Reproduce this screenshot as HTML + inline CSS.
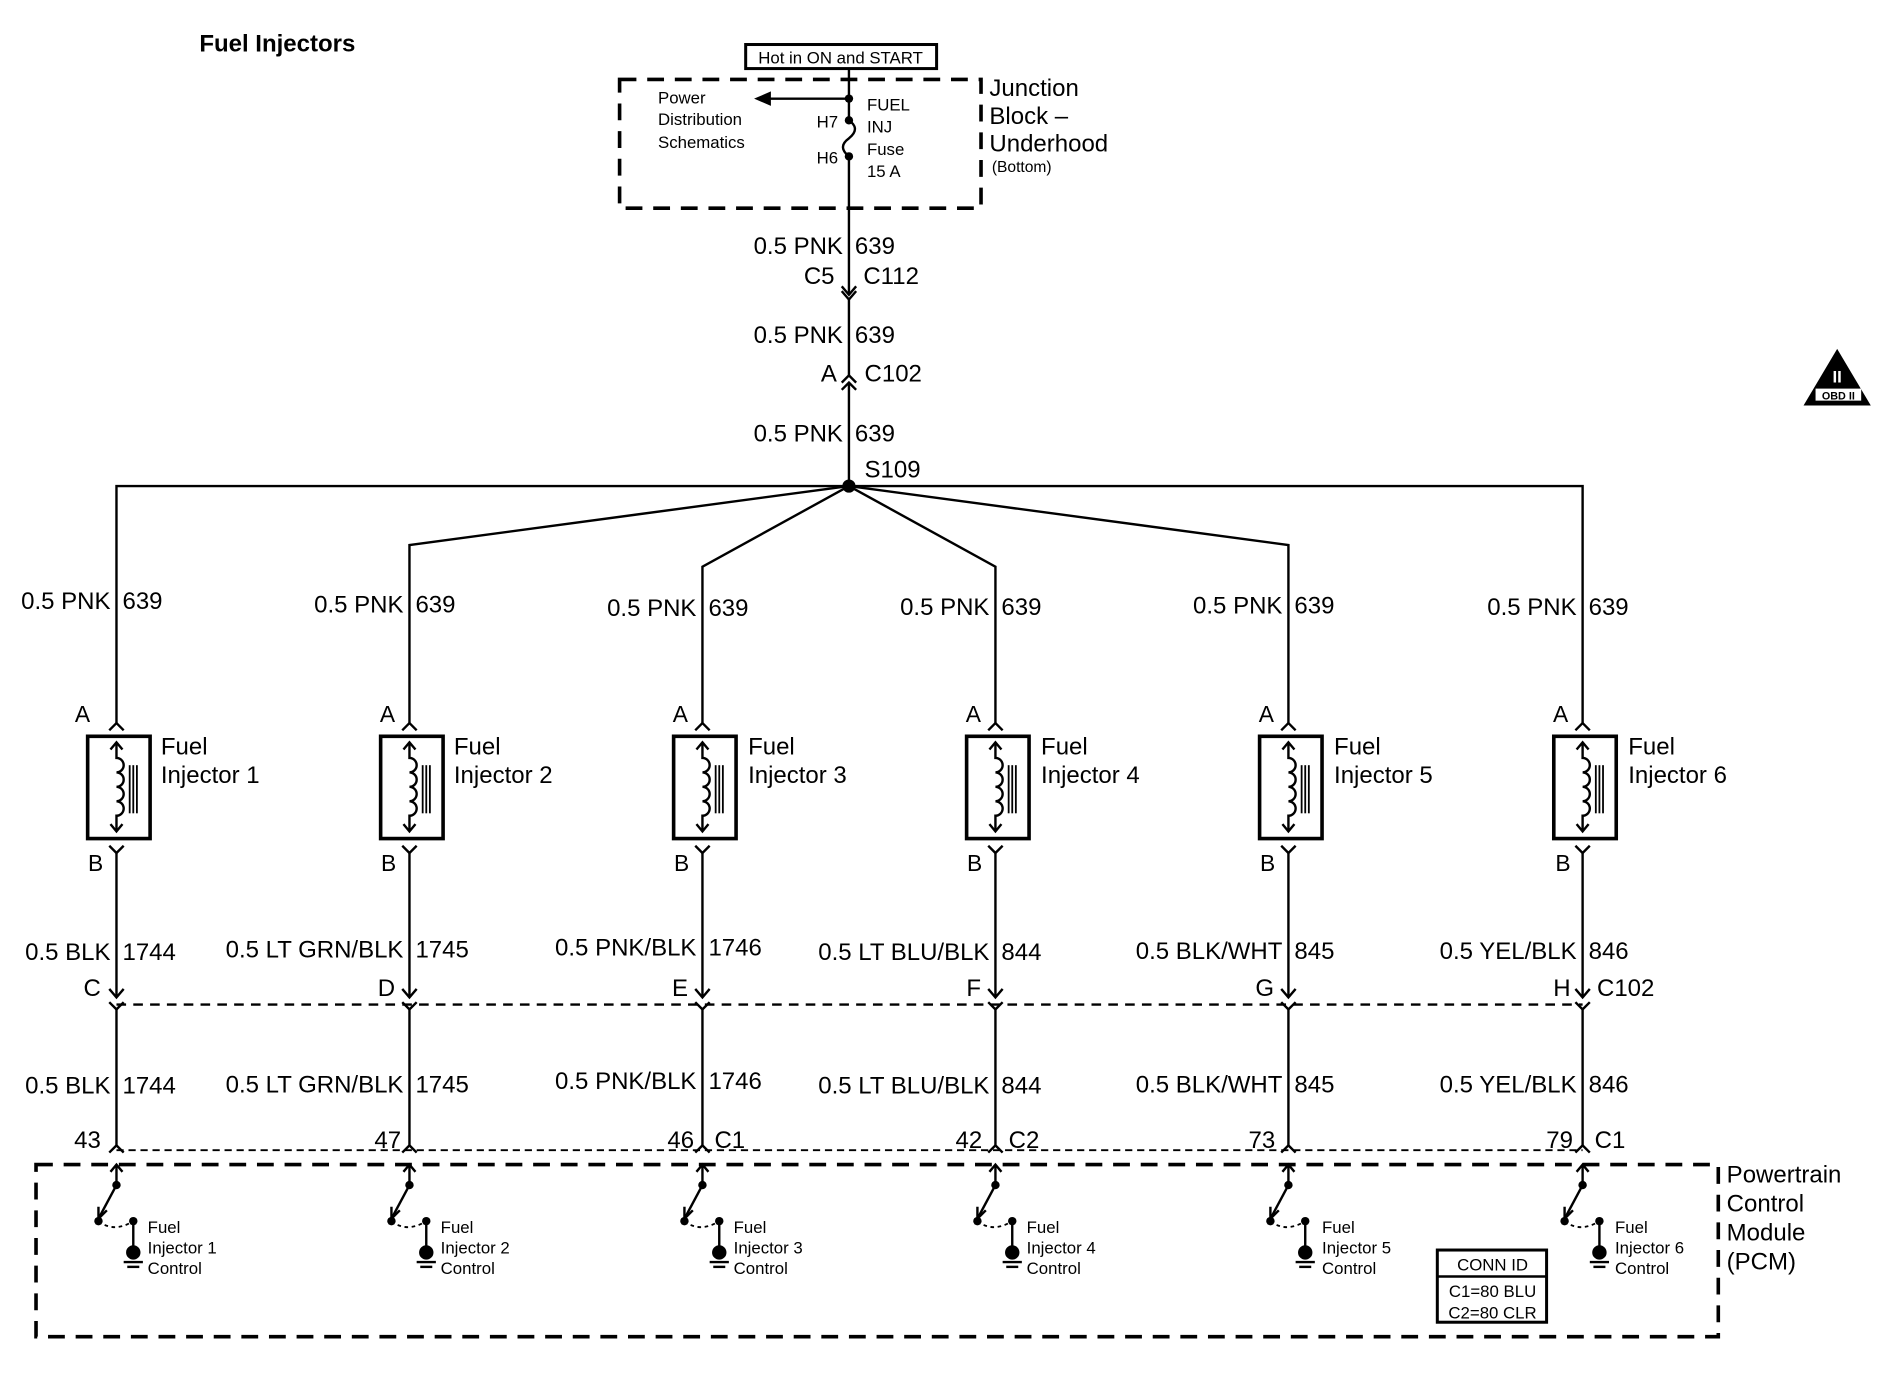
<!DOCTYPE html>
<html><head><meta charset="utf-8"><style>
html,body{margin:0;padding:0;background:#fff;}
svg{display:block;}
text{font-family:"Liberation Sans",Arial,sans-serif;fill:#000;}
</style></head><body>
<svg width="1884" height="1392" viewBox="0 0 1569 1157" preserveAspectRatio="none" xmlns="http://www.w3.org/2000/svg">
<defs>
<g id="col" fill="none" stroke="#000" stroke-width="2">
  <polyline points="-6,607 0,601 6,607"/>
  <rect x="-24" y="612" width="52" height="85" stroke-width="3"/>
  <path d="M0,617 V630 a6,6 0 0 1 0,12 a6,6 0 0 1 0,12 a6,6 0 0 1 0,12 a6,6 0 0 1 0,12 V691"/>
  <polyline points="-5,623 0,617 5,623"/>
  <polyline points="-5,685 0,691 5,685"/>
  <line x1="11" y1="636" x2="11" y2="676" stroke-width="1.5"/>
  <line x1="14" y1="636" x2="14" y2="676" stroke-width="1.5"/>
  <line x1="17" y1="636" x2="17" y2="676" stroke-width="1.5"/>
  <polyline points="-6,703 0,709 6,703"/>
  <line x1="0" y1="709" x2="0" y2="829"/>
  <polyline points="-6,822 0,829 6,822"/>
  <polyline points="-6,833 0,839 6,833"/>
  <line x1="0" y1="839" x2="0" y2="952"/>
  <polyline points="-6,958 0,952 6,958"/>
  <line x1="0" y1="968" x2="0" y2="985"/>
  <polyline points="-5,974 0,968 5,974"/>
  <line x1="0" y1="985" x2="-15" y2="1013"/>
  <polyline points="-15,1003 -15,1013 -8,1006"/>
  <path d="M-15,1015 Q-2,1025 14,1015" stroke-dasharray="3,3" stroke-width="1.5"/>
  <line x1="14" y1="1015" x2="14" y2="1040"/>
  <line x1="6" y1="1049" x2="22" y2="1049"/>
  <line x1="9" y1="1053" x2="19" y2="1053"/>
  <circle cx="0" cy="985" r="3.5" fill="#000" stroke="none"/>
  <circle cx="-15" cy="1015" r="3.5" fill="#000" stroke="none"/>
  <circle cx="14" cy="1015" r="3.5" fill="#000" stroke="none"/>
  <circle cx="14" cy="1041" r="6" fill="#000" stroke="none"/>
</g>
</defs>

<text x="166" y="43" font-size="20" font-weight="bold">Fuel Injectors</text>

<!-- Top -->
<rect x="621" y="37" width="159" height="20" fill="none" stroke="#000" stroke-width="2.5"/>
<text x="700" y="53" font-size="14" text-anchor="middle">Hot in ON and START</text>
<rect x="516" y="66" width="301" height="107" fill="none" stroke="#000" stroke-width="3" stroke-dasharray="14,9"/>
<g stroke="#000" stroke-width="2" fill="none">
  <line x1="707" y1="57" x2="707" y2="100"/>
  <line x1="707" y1="82" x2="640" y2="82"/>
  <path d="M707,100 q10,7 0,15 q-10,7 0,15"/>
  <line x1="707" y1="130" x2="707" y2="245"/>
  <polyline points="701,238 707,245 713,238"/>
  <polyline points="701,242 707,249 713,242"/>
  <line x1="707" y1="249" x2="707" y2="312"/>
  <polyline points="701,318 707,312 713,318"/>
  <polyline points="701,324 707,318 713,324"/>
  <line x1="707" y1="318" x2="707" y2="404"/>
</g>
<polygon points="628,82 642,76 642,88" fill="#000"/>
<circle cx="707" cy="82" r="3.5"/><circle cx="707" cy="100" r="3.5"/><circle cx="707" cy="130" r="3.5"/>
<g font-size="14">
<text x="548" y="86">Power</text><text x="548" y="104">Distribution</text><text x="548" y="123">Schematics</text>
<text x="698" y="106" text-anchor="end">H7</text><text x="698" y="136" text-anchor="end">H6</text>
<text x="722" y="92">FUEL</text><text x="722" y="110">INJ</text><text x="722" y="129">Fuse</text><text x="722" y="147">15 A</text>
</g>
<g font-size="20">
<text x="824" y="80">Junction</text><text x="824" y="103">Block –</text><text x="824" y="126">Underhood</text>
</g>
<text x="826" y="143" font-size="13">(Bottom)</text>
<g font-size="20">
<text x="702" y="211" text-anchor="end">0.5 PNK</text><text x="712" y="211">639</text>
<text x="695" y="236" text-anchor="end">C5</text><text x="719" y="236">C112</text>
<text x="702" y="285" text-anchor="end">0.5 PNK</text><text x="712" y="285">639</text>
<text x="697" y="317" text-anchor="end">A</text><text x="720" y="317">C102</text>
<text x="702" y="367" text-anchor="end">0.5 PNK</text><text x="712" y="367">639</text>
<text x="720" y="397">S109</text>
</g>

<!-- splice -->
<g stroke="#000" stroke-width="2" fill="none">
  <polyline points="97,601 97,404 1318,404 1318,601"/>
  <polyline points="341,601 341,453 707,404"/>
  <polyline points="585,601 585,471 707,404"/>
  <polyline points="829,601 829,471 707,404"/>
  <polyline points="1073,601 1073,453 707,404"/>
  <line x1="97" y1="835" x2="1318" y2="835" stroke-dasharray="8,6"/>
  <line x1="97" y1="956" x2="1318" y2="956" stroke-width="1.5" stroke-dasharray="6,4"/>
</g>
<circle cx="707" cy="404" r="5.5"/>
<rect x="30" y="968" width="1401" height="143" fill="none" stroke="#000" stroke-width="3" stroke-dasharray="14,9"/>

<use href="#col" x="97"/><use href="#col" x="341"/><use href="#col" x="585"/>
<use href="#col" x="829"/><use href="#col" x="1073"/><use href="#col" x="1318"/>

<g font-size="20">
<text x="92" y="506" text-anchor="end">0.5 PNK</text><text x="102" y="506">639</text>
<text x="75" y="600" text-anchor="end" font-size="19">A</text>
<text x="134" y="627">Fuel</text><text x="134" y="651">Injector 1</text>
<text x="86" y="724" text-anchor="end" font-size="19">B</text>
<text x="92" y="798" text-anchor="end">0.5 BLK</text><text x="102" y="798">1744</text>
<text x="84" y="828" text-anchor="end">C</text>
<text x="92" y="909" text-anchor="end">0.5 BLK</text><text x="102" y="909">1744</text>
<text x="84" y="954" text-anchor="end">43</text>

<text x="336" y="509" text-anchor="end">0.5 PNK</text><text x="346" y="509">639</text>
<text x="329" y="600" text-anchor="end" font-size="19">A</text>
<text x="378" y="627">Fuel</text><text x="378" y="651">Injector 2</text>
<text x="330" y="724" text-anchor="end" font-size="19">B</text>
<text x="336" y="796" text-anchor="end">0.5 LT GRN/BLK</text><text x="346" y="796">1745</text>
<text x="329" y="828" text-anchor="end">D</text>
<text x="336" y="908" text-anchor="end">0.5 LT GRN/BLK</text><text x="346" y="908">1745</text>
<text x="334" y="954" text-anchor="end">47</text>

<text x="580" y="512" text-anchor="end">0.5 PNK</text><text x="590" y="512">639</text>
<text x="573" y="600" text-anchor="end" font-size="19">A</text>
<text x="623" y="627">Fuel</text><text x="623" y="651">Injector 3</text>
<text x="574" y="724" text-anchor="end" font-size="19">B</text>
<text x="580" y="794" text-anchor="end">0.5 PNK/BLK</text><text x="590" y="794">1746</text>
<text x="573" y="828" text-anchor="end">E</text>
<text x="580" y="905" text-anchor="end">0.5 PNK/BLK</text><text x="590" y="905">1746</text>
<text x="578" y="954" text-anchor="end">46</text><text x="595" y="954">C1</text>

<text x="824" y="511" text-anchor="end">0.5 PNK</text><text x="834" y="511">639</text>
<text x="817" y="600" text-anchor="end" font-size="19">A</text>
<text x="867" y="627">Fuel</text><text x="867" y="651">Injector 4</text>
<text x="818" y="724" text-anchor="end" font-size="19">B</text>
<text x="824" y="798" text-anchor="end">0.5 LT BLU/BLK</text><text x="834" y="798">844</text>
<text x="817" y="828" text-anchor="end">F</text>
<text x="824" y="909" text-anchor="end">0.5 LT BLU/BLK</text><text x="834" y="909">844</text>
<text x="818" y="954" text-anchor="end">42</text><text x="840" y="954">C2</text>

<text x="1068" y="510" text-anchor="end">0.5 PNK</text><text x="1078" y="510">639</text>
<text x="1061" y="600" text-anchor="end" font-size="19">A</text>
<text x="1111" y="627">Fuel</text><text x="1111" y="651">Injector 5</text>
<text x="1062" y="724" text-anchor="end" font-size="19">B</text>
<text x="1068" y="797" text-anchor="end">0.5 BLK/WHT</text><text x="1078" y="797">845</text>
<text x="1061" y="828" text-anchor="end">G</text>
<text x="1068" y="908" text-anchor="end">0.5 BLK/WHT</text><text x="1078" y="908">845</text>
<text x="1062" y="954" text-anchor="end">73</text>

<text x="1313" y="511" text-anchor="end">0.5 PNK</text><text x="1323" y="511">639</text>
<text x="1306" y="600" text-anchor="end" font-size="19">A</text>
<text x="1356" y="627">Fuel</text><text x="1356" y="651">Injector 6</text>
<text x="1308" y="724" text-anchor="end" font-size="19">B</text>
<text x="1313" y="797" text-anchor="end">0.5 YEL/BLK</text><text x="1323" y="797">846</text>
<text x="1308" y="828" text-anchor="end">H</text><text x="1330" y="828">C102</text>
<text x="1313" y="908" text-anchor="end">0.5 YEL/BLK</text><text x="1323" y="908">846</text>
<text x="1310" y="954" text-anchor="end">79</text><text x="1328" y="954">C1</text>

<text x="1438" y="983">Powertrain</text><text x="1438" y="1007">Control</text>
<text x="1438" y="1031">Module</text><text x="1438" y="1055">(PCM)</text>
</g>

<g font-size="14">
<text x="123" y="1025">Fuel</text><text x="123" y="1042">Injector 1</text><text x="123" y="1059">Control</text>
<text x="367" y="1025">Fuel</text><text x="367" y="1042">Injector 2</text><text x="367" y="1059">Control</text>
<text x="611" y="1025">Fuel</text><text x="611" y="1042">Injector 3</text><text x="611" y="1059">Control</text>
<text x="855" y="1025">Fuel</text><text x="855" y="1042">Injector 4</text><text x="855" y="1059">Control</text>
<text x="1101" y="1025">Fuel</text><text x="1101" y="1042">Injector 5</text><text x="1101" y="1059">Control</text>
<text x="1345" y="1025">Fuel</text><text x="1345" y="1042">Injector 6</text><text x="1345" y="1059">Control</text>
</g>

<rect x="1197" y="1039" width="91" height="60" fill="none" stroke="#000" stroke-width="2.5"/>
<line x1="1197" y1="1061" x2="1288" y2="1061" stroke="#000" stroke-width="2"/>
<g font-size="14" text-anchor="middle">
<text x="1243" y="1056">CONN ID</text>
<text x="1243" y="1078">C1=80 BLU</text>
<text x="1243" y="1096">C2=80 CLR</text>
</g>

<polygon points="1530,290 1502,337 1558,337" fill="#000"/>
<text x="1530" y="318" font-size="14" font-weight="bold" text-anchor="middle" style="fill:#fff">II</text>
<rect x="1512" y="323" width="38" height="10" fill="#fff"/>
<text x="1531" y="332" font-size="9" font-weight="bold" text-anchor="middle">OBD II</text>
</svg>
</body></html>
